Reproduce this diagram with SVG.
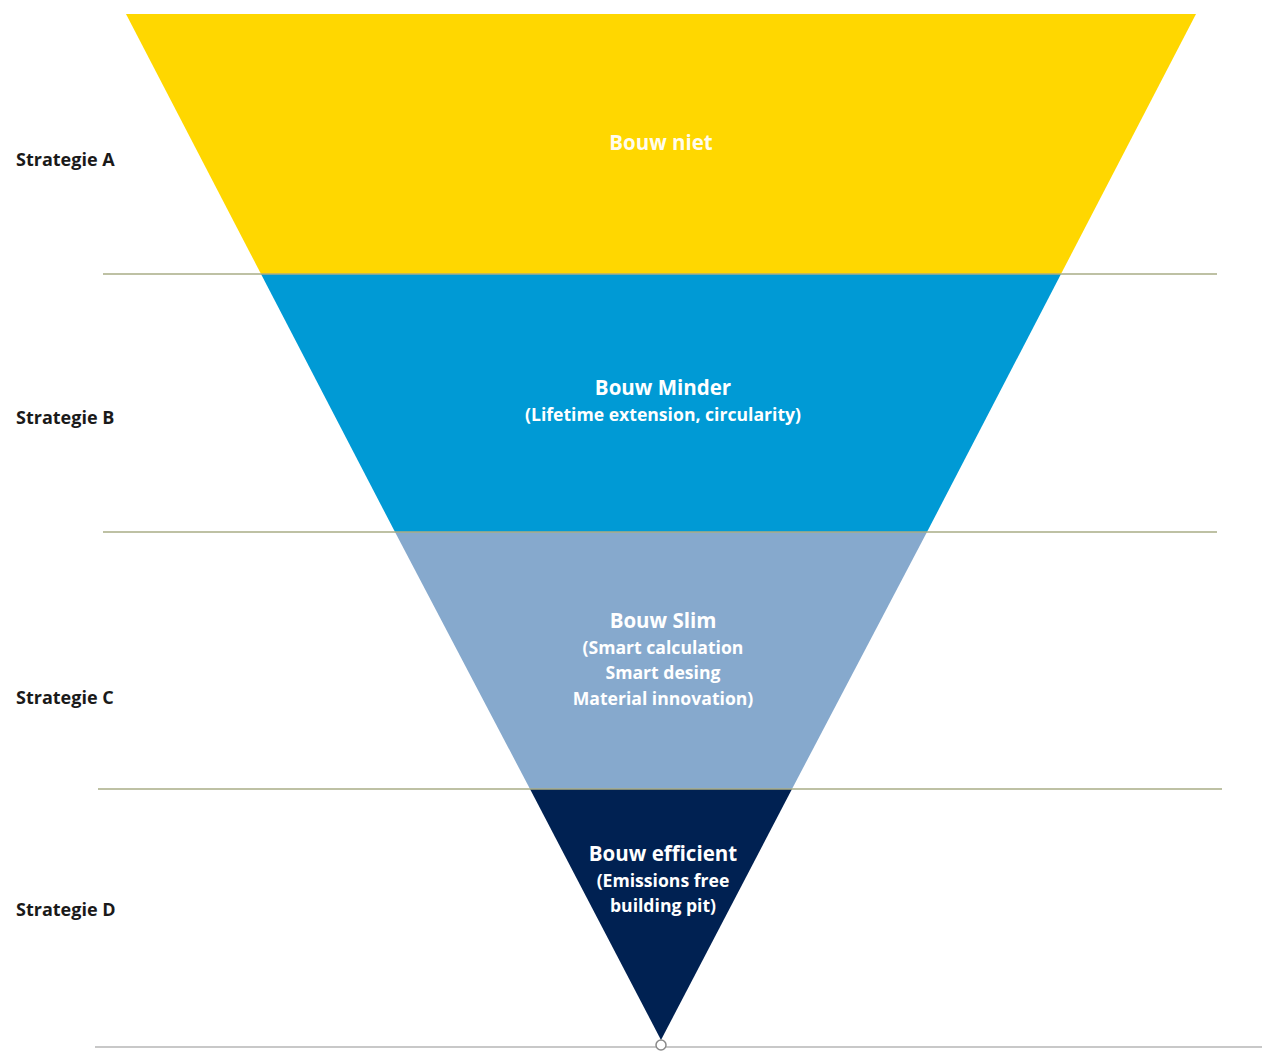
<svg xmlns="http://www.w3.org/2000/svg" width="1276" height="1052" viewBox="0 0 1276 1052">
<style>
.lbl{font-family:"Open Sans","Liberation Sans",sans-serif;font-weight:700;font-size:18px;fill:#1a1a1a}
.t{font-family:"Open Sans","Liberation Sans",sans-serif;font-weight:700;fill:#ffffff;text-anchor:middle}
.h{font-size:20.5px}
.s{font-size:17.6px}
.sep{stroke:#a9ad86;stroke-width:1.5;fill:none}
</style>
<rect width="1276" height="1052" fill="#ffffff"/>
<g id="level-a">
<polygon points="126,14 1196,14 1061,274 261,274" fill="#FFD700"/>
<text class="t h" x="661" y="150" fill-opacity="0.95">Bouw niet</text>
</g>
<g id="level-b">
<polygon points="261,274 1061,274 927,532 395,532" fill="#009AD5"/>
<text class="t h" x="663" y="395">Bouw Minder</text>
<text class="t s" x="663" y="421">(Lifetime extension, circularity)</text>
</g>
<g id="level-c">
<polygon points="395,532 927,532 792,789 530,789" fill="#86A9CD"/>
<text class="t h" x="663" y="628">Bouw Slim</text>
<text class="t s" x="663" y="654">(Smart calculation</text>
<text class="t s" x="663" y="679">Smart desing</text>
<text class="t s" x="663" y="705">Material innovation)</text>
</g>
<g id="level-d">
<polygon points="530,789 792,789 661,1040" fill="#002152"/>
<text class="t h" x="663" y="861">Bouw efficient</text>
<text class="t s" x="663" y="887">(Emissions free</text>
<text class="t s" x="663" y="912">building pit)</text>
</g>
<g id="labels">
<text class="lbl" x="16" y="166">Strategie A</text>
<text class="lbl" x="16" y="424">Strategie B</text>
<text class="lbl" x="16" y="704">Strategie C</text>
<text class="lbl" x="16" y="916">Strategie D</text>
</g>
<g id="connectors">
<line class="sep" x1="103" y1="274" x2="1217" y2="274"/>
<line class="sep" x1="103" y1="532" x2="1217" y2="532"/>
<line class="sep" x1="98" y1="789" x2="1222" y2="789"/>
<line x1="95" y1="1047" x2="1262" y2="1047" stroke="#c8c8c8" stroke-width="2"/>
<circle cx="661" cy="1045" r="5" fill="#ffffff" stroke="#8a8a8a" stroke-width="1.5"/>
</g>
</svg>
